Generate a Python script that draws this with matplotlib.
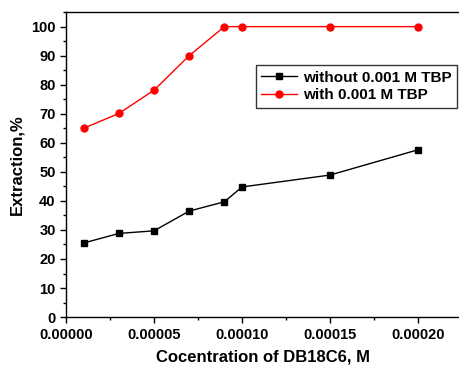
import matplotlib
matplotlib.use("Agg")
import matplotlib.pyplot as plt
from matplotlib.ticker import MultipleLocator

plt.rcParams['font.family'] = ['Liberation Sans', 'DejaVu Sans']
plt.rcParams['font.weight'] = 'bold'

# concentration of DB18C6, M
conc = [0.00001, 0.00003, 0.00005, 0.00007, 0.00009, 0.00010, 0.00015, 0.00020]
without_tbp = [25.5, 28.8, 29.7, 36.5, 39.7, 44.8, 48.9, 57.6]
with_tbp = [65.0, 70.1, 78.1, 90.0, 100.0, 100.0, 100.0, 100.0]

fig = plt.figure(figsize=(4.59, 3.67), dpi=100)
ax = fig.add_axes([0.1438, 0.136, 0.8562, 0.831])

ax.plot(conc, without_tbp, 'ks', label='without 0.001 M TBP', linestyle='-',
        linewidth=1, markersize=3.8, markerfacecolor='k')
ax.plot(conc, with_tbp, 'ro', label='with 0.001 M TBP', linestyle='-',
        linewidth=1, markersize=5)

ax.set_xlim(0, 0.0002233)
ax.set_ylim(0, 105)
ax.xaxis.set_major_locator(MultipleLocator(0.00005))
ax.xaxis.set_minor_locator(MultipleLocator(0.000025))
ax.yaxis.set_major_locator(MultipleLocator(10))
ax.yaxis.set_minor_locator(MultipleLocator(5))
ax.xaxis.set_major_formatter(plt.FuncFormatter(lambda v, p: '%.5f' % v))

ax.tick_params(which='major', direction='out', length=4, width=1, labelsize=10.5)
ax.tick_params(which='minor', direction='out', length=2.5, width=1)
ax.tick_params(top=False, right=False)
ax.spines['right'].set_visible(False)
for s in ['left', 'bottom', 'top']:
    ax.spines[s].set_linewidth(1)

ax.set_xlabel('Cocentration of DB18C6, M', fontsize=12, fontweight='bold', labelpad=6)
ax.set_ylabel('Extraction,%', fontsize=12, fontweight='bold', labelpad=5)

leg = ax.legend(loc='upper left', bbox_to_anchor=(0.483, 0.826), fontsize=11,
                frameon=True, fancybox=False, edgecolor='k', handlelength=2.35,
                borderpad=0.35, labelspacing=0.25, handletextpad=0.4,
                borderaxespad=0)
leg.get_frame().set_linewidth(1)

plt.savefig('out.png', dpi=100)
